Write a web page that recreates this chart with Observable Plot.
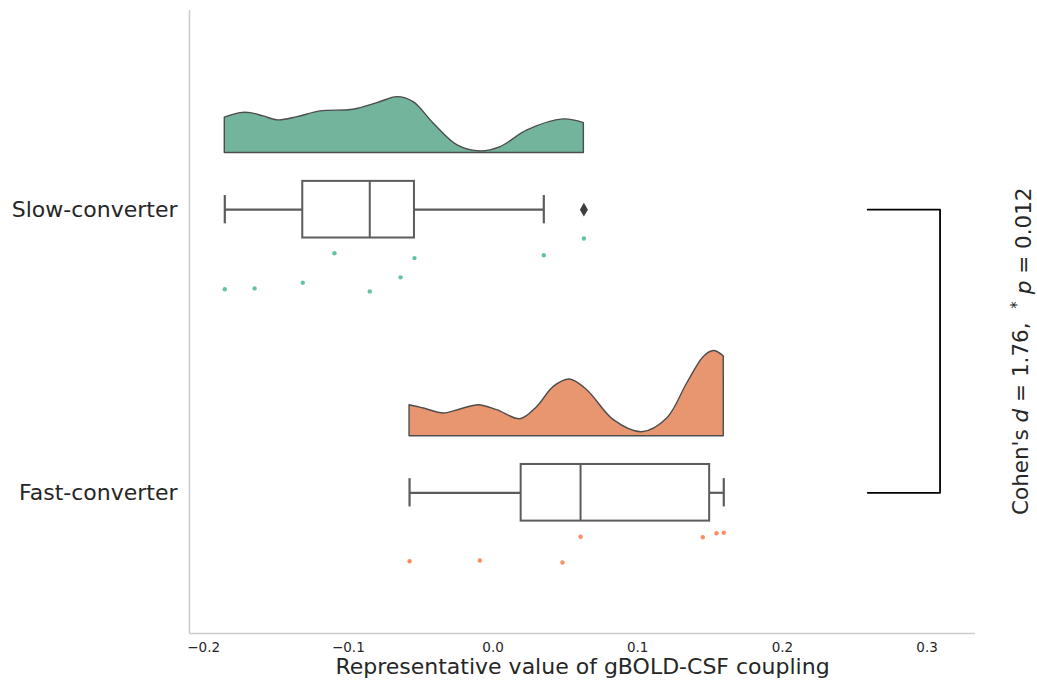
<!DOCTYPE html>
<html>
<head>
<meta charset="utf-8">
<script src="https://cdn.jsdelivr.net/npm/d3@7"></script>
<script src="https://cdn.jsdelivr.net/npm/@observablehq/plot@0.6"></script>
<style>
  html, body { margin: 0; padding: 0; background: #fff; }
  #chart svg { display: block; }
</style>
</head>
<body>
<div id="chart"></div>
<script>
// ---------- data ----------
const categories = ["Slow-converter", "Fast-converter"];
const groupColors = ["#66c2a5", "#fc8d62"];
const densityColors = ["#73b49d", "#e8966f"];

// individual observations (x value) and their vertical jitter (in category units)
const slowValues = [-0.1854, -0.1648, -0.1315, -0.1096, -0.0852, -0.0639, -0.0543, 0.0351, 0.0628];
const slowJitter = [0.281, 0.278, 0.258, 0.154, 0.289, 0.239, 0.171, 0.161, 0.102];
const fastValues = [-0.0577, -0.0091, 0.0480, 0.0605, 0.1450, 0.1545, 0.1595];
const fastJitter = [0.242, 0.239, 0.246, 0.155, 0.157, 0.143, 0.141];

// half-violin density outline
const slowDensityX = [-0.1854, -0.1745, -0.1676, -0.1586, -0.1483, -0.1351, -0.1192, -0.0964, -0.0798, -0.0660, -0.0549, -0.0411, -0.0245, -0.0086, 0.0052, 0.0238, 0.0487, 0.0628];
const slowDensityY = [3.54, 4.0, 4.0, 3.67, 3.27, 3.6, 4.17, 4.34, 5.0, 5.6, 5.1, 2.97, 0.77, 0.17, 0.6, 2.27, 3.37, 3.0];
const fastDensityX = [-0.0577, -0.0478, -0.0340, -0.0225, -0.0098, 0.0029, 0.0190, 0.0306, 0.0420, 0.0531, 0.0651, 0.0835, 0.1031, 0.1204, 0.1342, 0.1457, 0.1526, 0.1595];
const fastDensityY = [3.1, 2.77, 2.27, 2.67, 3.1, 2.6, 1.7, 2.93, 4.93, 5.67, 4.6, 1.6, 0.4, 1.77, 5.27, 7.93, 8.53, 8.0];

const xTicks = [-0.2, -0.1, 0.0, 0.1, 0.2, 0.3];
const xLabel = "Representative value of gBOLD-CSF coupling";
const bracketX = [0.259, 0.309];
const annotation = "Cohen's d = 1.76,  *p = 0.012";

// ---------- layout constants ----------
const densityBase = -0.2;   // offset of violin baseline from category centre
const densityScale = 0.0353; // category units per density unit
const boxHalf = 0.1;
const capHalf = 0.05;

// ---------- derived tables ----------
const groups = [
  {values: slowValues, jitter: slowJitter, dx: slowDensityX, dy: slowDensityY},
  {values: fastValues, jitter: fastJitter, dx: fastDensityX, dy: fastDensityY}
];

const points = [], dens = [], boxes = [], outliers = [];
groups.forEach((g, i) => {
  g.values.forEach((v, j) => points.push({x: v, y: i + g.jitter[j], g: i}));
  g.dx.forEach((x, j) => dens.push({x, d: g.dy[j], g: i}));
  const s = g.values.slice().sort(d3.ascending);
  const q1 = d3.quantile(s, 0.25), med = d3.quantile(s, 0.5), q3 = d3.quantile(s, 0.75);
  const iqr = q3 - q1, lo = q1 - 1.5 * iqr, hi = q3 + 1.5 * iqr;
  const inside = s.filter(v => v >= lo && v <= hi);
  boxes.push({g: i, q1, med, q3, wlo: d3.min(inside), whi: d3.max(inside)});
  s.filter(v => v < lo || v > hi).forEach(v => outliers.push({x: v, y: i}));
});

const bracket = [
  {x: bracketX[0], y: 0}, {x: bracketX[1], y: 0},
  {x: bracketX[1], y: 1}, {x: bracketX[0], y: 1}
];

const xDomain = [-0.2098, 0.3335];
const yDomain = [-0.7036, 1.497];
const boxStroke = "#5c5c5c";

const plot = Plot.plot({
  width: 1037,
  height: 688,
  marginLeft: 189,
  marginRight: 62,
  marginTop: 10,
  marginBottom: 55,
  style: {fontFamily: "DejaVu Sans", fontSize: "13.5px", color: "#262626", background: "#fff", overflow: "visible"},
  x: {domain: xDomain, ticks: xTicks, tickSize: 0, tickPadding: 9, tickFormat: d3.format(".1f"), label: null},
  y: {domain: yDomain, reverse: true, axis: null},
  marks: [
    // spines
    Plot.ruleX([xDomain[0]], {stroke: "#cccccc", strokeWidth: 1.5}),
    Plot.ruleY([yDomain[1]], {stroke: "#cccccc", strokeWidth: 1.5}),
    // half violins
    Plot.areaY(dens, {
      x: "x",
      y1: d => d.g + densityBase,
      y2: d => d.g + densityBase - d.d * densityScale,
      z: "g",
      fill: d => densityColors[d.g],
      stroke: "#4d4d4d",
      strokeWidth: 1.4,
      curve: "catmull-rom"
    }),
    // whiskers
    Plot.ruleY(boxes, {x1: "wlo", x2: "q1", y: "g", stroke: boxStroke, strokeWidth: 2.2}),
    Plot.ruleY(boxes, {x1: "q3", x2: "whi", y: "g", stroke: boxStroke, strokeWidth: 2.2}),
    Plot.ruleX(boxes, {x: "wlo", y1: d => d.g - capHalf, y2: d => d.g + capHalf, stroke: boxStroke, strokeWidth: 2.2}),
    Plot.ruleX(boxes, {x: "whi", y1: d => d.g - capHalf, y2: d => d.g + capHalf, stroke: boxStroke, strokeWidth: 2.2}),
    // boxes
    Plot.rect(boxes, {x1: "q1", x2: "q3", y1: d => d.g - boxHalf, y2: d => d.g + boxHalf, fill: "white", stroke: boxStroke, strokeWidth: 2}),
    Plot.ruleX(boxes, {x: "med", y1: d => d.g - boxHalf, y2: d => d.g + boxHalf, stroke: boxStroke, strokeWidth: 2}),
    // outliers
    Plot.dot(outliers, {x: "x", y: "y", symbol: "diamond", r: 4.2, fill: "#3d3d3d", stroke: "none"}),
    // rain points
    Plot.dot(points, {x: "x", y: "y", r: 2.2, fill: d => groupColors[d.g], stroke: "none"}),
    // significance bracket
    Plot.line(bracket, {x: "x", y: "y", stroke: "#000", strokeWidth: 1.8}),
    // category labels
    Plot.text(categories, {y: (d, i) => i, text: d => d, frameAnchor: "left", textAnchor: "end", dx: -12, fontSize: 22, fill: "#262626"}),
    // x label
    Plot.text([xLabel], {text: d => d, frameAnchor: "bottom", dy: 40, fontSize: 22, fill: "#262626"}),
    // annotation
    Plot.text([annotation], {text: d => d, y: () => 0.5, frameAnchor: "right", textAnchor: "middle", dx: 46, rotate: -90, fontSize: 21.5, fill: "#262626"})
  ]
});

document.getElementById("chart").appendChild(plot);

// rich-text formatting for the annotation (italics and superscript)
const ann = Array.from(plot.querySelectorAll("text")).find(t => t.textContent === annotation);
if (ann) {
  ann.style.whiteSpace = "pre";
  ann.innerHTML = 'Cohen\'s <tspan font-style="italic">d</tspan> = 1.76,  <tspan dy="-0.45em" font-size="0.7em">*</tspan><tspan dy="0.45em"> </tspan><tspan font-style="italic">p</tspan> = 0.012';
}
</script>
</body>
</html>
